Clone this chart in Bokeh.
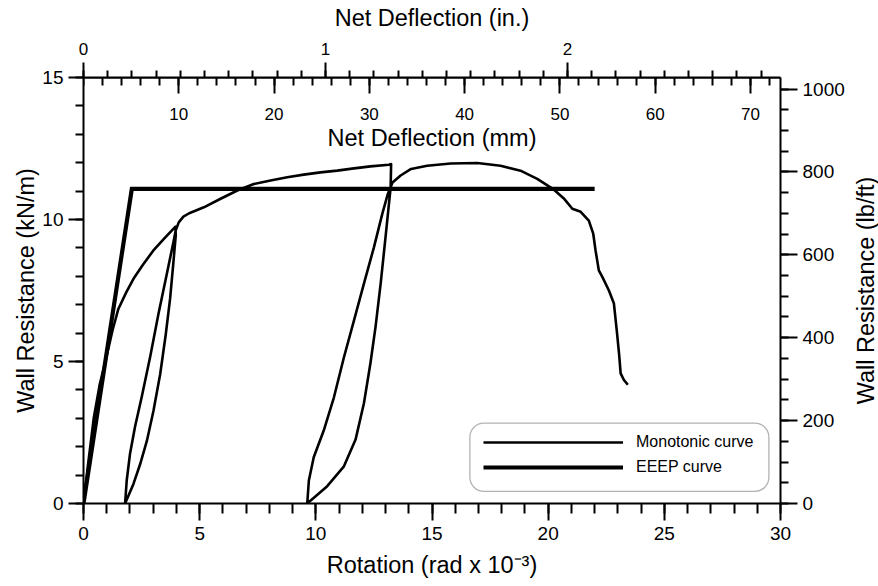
from bokeh.plotting import figure
from bokeh.layouts import row
from bokeh.models import (Range1d, LinearAxis, FixedTicker, Legend, LegendItem,
                          BoxAnnotation, Title)
from bokeh.embed import file_html
from bokeh.resources import INLINE

# ---------------- data ----------------
# Monotonic test curve: rotation (rad x 1e-3) vs wall resistance (kN/m)
mono_rot = [0.0, 0.2, 0.44, 0.7, 0.97, 1.25, 1.5, 1.85, 2.18, 2.55, 3.0, 3.5, 3.96,
            3.97, 3.87, 3.73, 3.54, 3.3, 3.01, 2.73, 2.44, 2.15, 1.79,
            1.86, 2.0, 2.22, 2.51, 2.87, 3.23, 3.59, 3.87, 3.97, 4.1, 4.3,
            4.55, 5.18, 5.9, 6.62, 7.33, 8.05, 8.77, 9.48, 10.2, 10.92, 11.64, 12.35, 13.14, 13.24,
            13.22, 13.0, 12.79, 12.57, 12.35, 12.07, 11.71, 11.21, 10.49, 9.63,
            9.7, 9.91, 10.34, 10.78, 11.21, 11.64, 12.07, 12.5, 12.86, 13.1, 13.3,
            13.65, 14.1, 14.79, 15.8, 16.95, 17.95, 18.81, 19.53, 20.2, 20.7, 21.04,
            21.4, 21.75, 21.94, 22.04, 22.18, 22.33, 22.61, 22.83, 22.95, 23.05, 23.12,
            23.26, 23.43]
mono_kn = [0.0, 1.4, 3.0, 4.2, 5.1, 6.1, 6.85, 7.45, 7.95, 8.4, 8.9, 9.35, 9.75,
           9.43, 8.5, 7.23, 5.95, 4.55, 3.26, 2.21, 1.39, 0.69, 0.0,
           0.81, 1.74, 2.71, 3.77, 5.17, 6.69, 8.1, 9.2, 9.62, 9.9, 10.1,
           10.22, 10.43, 10.73, 11.02, 11.25, 11.37, 11.49, 11.58, 11.66, 11.72, 11.8, 11.87, 11.93, 11.95,
           11.13, 9.38, 7.74, 6.22, 4.94, 3.53, 2.25, 1.31, 0.61, 0.0,
           0.81, 1.63, 2.57, 3.74, 5.15, 6.44, 7.74, 9.02, 10.2, 10.9, 11.3,
           11.55, 11.78, 11.89, 11.97, 11.99, 11.89, 11.72, 11.43, 11.08, 10.72, 10.38,
           10.27, 9.96, 9.5, 8.91, 8.21, 7.98, 7.51, 7.04, 6.11, 5.29, 4.58,
           4.35, 4.18]

# EEEP (equivalent energy elastic-plastic) curve
eeep_rot = [0.0, 2.08, 22.0]
eeep_kn = [0.0, 11.08, 11.08]

series_labels = ["Monotonic curve", "EEEP curve"]

# axis ticks
rot_major = [0, 5, 10, 15, 20, 25, 30]
rot_minor = list(range(0, 31))
kn_major = [0, 5, 10, 15]
kn_minor = list(range(0, 16))
lb_major = [0, 200, 400, 600, 800, 1000]
lb_minor = list(range(0, 1001, 50))
in_major = [0, 1, 2]
in_minor = [i / 10 for i in range(0, 29)]
mm_major = [10, 20, 30, 40, 50, 60, 70]
mm_minor = list(range(0, 74, 2))

# unit conversions (2438 mm = 8 ft wall)
MM_PER_ROT = 2.4384
IN_PER_ROT = 0.096
LBFT_PER_KNM = 68.5218
ROT_MAX = 30
KN_MAX = 15

FONT = "Liberation Sans"
TICK_FS = "19px"
TITLE_FS = "23.5px"

p = figure(width=850, height=586, output_backend="svg", toolbar_location=None,
           x_range=Range1d(0, ROT_MAX), y_range=Range1d(0, KN_MAX),
           min_border_left=83, min_border_right=70, min_border_top=77, min_border_bottom=83)
p.extra_x_ranges = {"inch": Range1d(0, ROT_MAX * IN_PER_ROT),
                    "mm": Range1d(0, ROT_MAX * MM_PER_ROT)}
p.extra_y_ranges = {"lbft": Range1d(0, KN_MAX * LBFT_PER_KNM)}
p.grid.visible = False
p.outline_line_color = None
p.background_fill_color = "white"
p.border_fill_color = "white"


def style(ax, major_out, minor_out, label_standoff, title_standoff, tick_fs=TICK_FS):
    ax.axis_line_color = "black"
    ax.axis_line_width = 2
    ax.major_tick_line_color = "black"
    ax.major_tick_line_width = 2
    ax.minor_tick_line_color = "black"
    ax.minor_tick_line_width = 2
    ax.major_tick_in = 0
    ax.major_tick_out = major_out
    ax.minor_tick_in = 0
    ax.minor_tick_out = minor_out
    ax.major_label_text_font = FONT
    ax.major_label_text_font_size = tick_fs
    ax.major_label_text_color = "black"
    ax.major_label_standoff = label_standoff
    ax.axis_label_text_font = FONT
    ax.axis_label_text_font_size = TITLE_FS
    ax.axis_label_text_font_style = "normal"
    ax.axis_label_text_color = "black"
    ax.axis_label_standoff = title_standoff


# bottom: rotation
xb = p.xaxis[0]
xb.ticker = FixedTicker(ticks=rot_major, minor_ticks=rot_minor)
xb.axis_label = "Rotation (rad x 10\u207b\u00b3)"
style(xb, 17, 10, 6, 9)

# left: kN/m
yl = p.yaxis[0]
yl.ticker = FixedTicker(ticks=kn_major, minor_ticks=kn_minor)
yl.axis_label = "Wall Resistance (kN/m)"
style(yl, 15, 8, 5, 0)

# right: lb/ft ticks and numbers
yr = LinearAxis(y_range_name="lbft",
                ticker=FixedTicker(ticks=lb_major, minor_ticks=lb_minor))
style(yr, 17, 8, 5, 0)
p.add_layout(yr, "right")

# top outside: inches
xt = LinearAxis(x_range_name="inch", axis_label="Net Deflection (in.)",
                ticker=FixedTicker(ticks=in_major, minor_ticks=in_minor))
style(xt, 15, 7, 8, 9, tick_fs="17px")
p.add_layout(xt, "above")

# top inside: millimetres (axis fixed at the top edge of the frame)
xm = LinearAxis(x_range_name="mm", axis_label="Net Deflection (mm)", fixed_location=KN_MAX,
                ticker=FixedTicker(ticks=mm_major, minor_ticks=mm_minor))
style(xm, 16, 8, 14, 2, tick_fs="17px")
p.add_layout(xm, "below")

# curves
r_mono = p.line(mono_rot, mono_kn, line_color="black", line_width=2.6, line_join="round")
r_eeep = p.line(eeep_rot, eeep_kn, line_color="black", line_width=4.2, line_join="miter")

# legend frame (rounded)
box = BoxAnnotation(left=16.63, right=29.5, bottom=0.43, top=2.83,
                    fill_color="white", fill_alpha=1.0, line_color="black", line_width=1.3,
                    border_radius=14, level="overlay")
p.add_layout(box)

legend = Legend(items=[LegendItem(label=series_labels[0], renderers=[r_mono]),
                       LegendItem(label=series_labels[1], renderers=[r_eeep])],
                location=(400, 26), glyph_width=140, glyph_height=20, label_height=20,
                spacing=5, padding=0, margin=0, label_standoff=13,
                border_line_color=None, background_fill_alpha=0,
                label_text_font=FONT, label_text_font_size="16px", label_text_color="black")
p.add_layout(legend, "center")

# narrow strip on the right that carries the lb/ft title, reading bottom-to-top
side = figure(width=28, height=586, output_backend="svg", toolbar_location=None,
              x_axis_location=None, y_axis_location=None,
              min_border_left=0, min_border_right=0, min_border_top=0, min_border_bottom=46)
side.grid.visible = False
side.outline_line_color = None
side.background_fill_color = "white"
side.border_fill_color = "white"
side.add_layout(Title(text="Wall Resistance (lb/ft)", align="center", vertical_align="bottom",
                      standoff=0, offset=0, text_font=FONT, text_font_size=TITLE_FS,
                      text_font_style="normal", text_color="black"), "left")

layout = row(p, side)
open("out.html", "w").write(file_html(layout, INLINE))
